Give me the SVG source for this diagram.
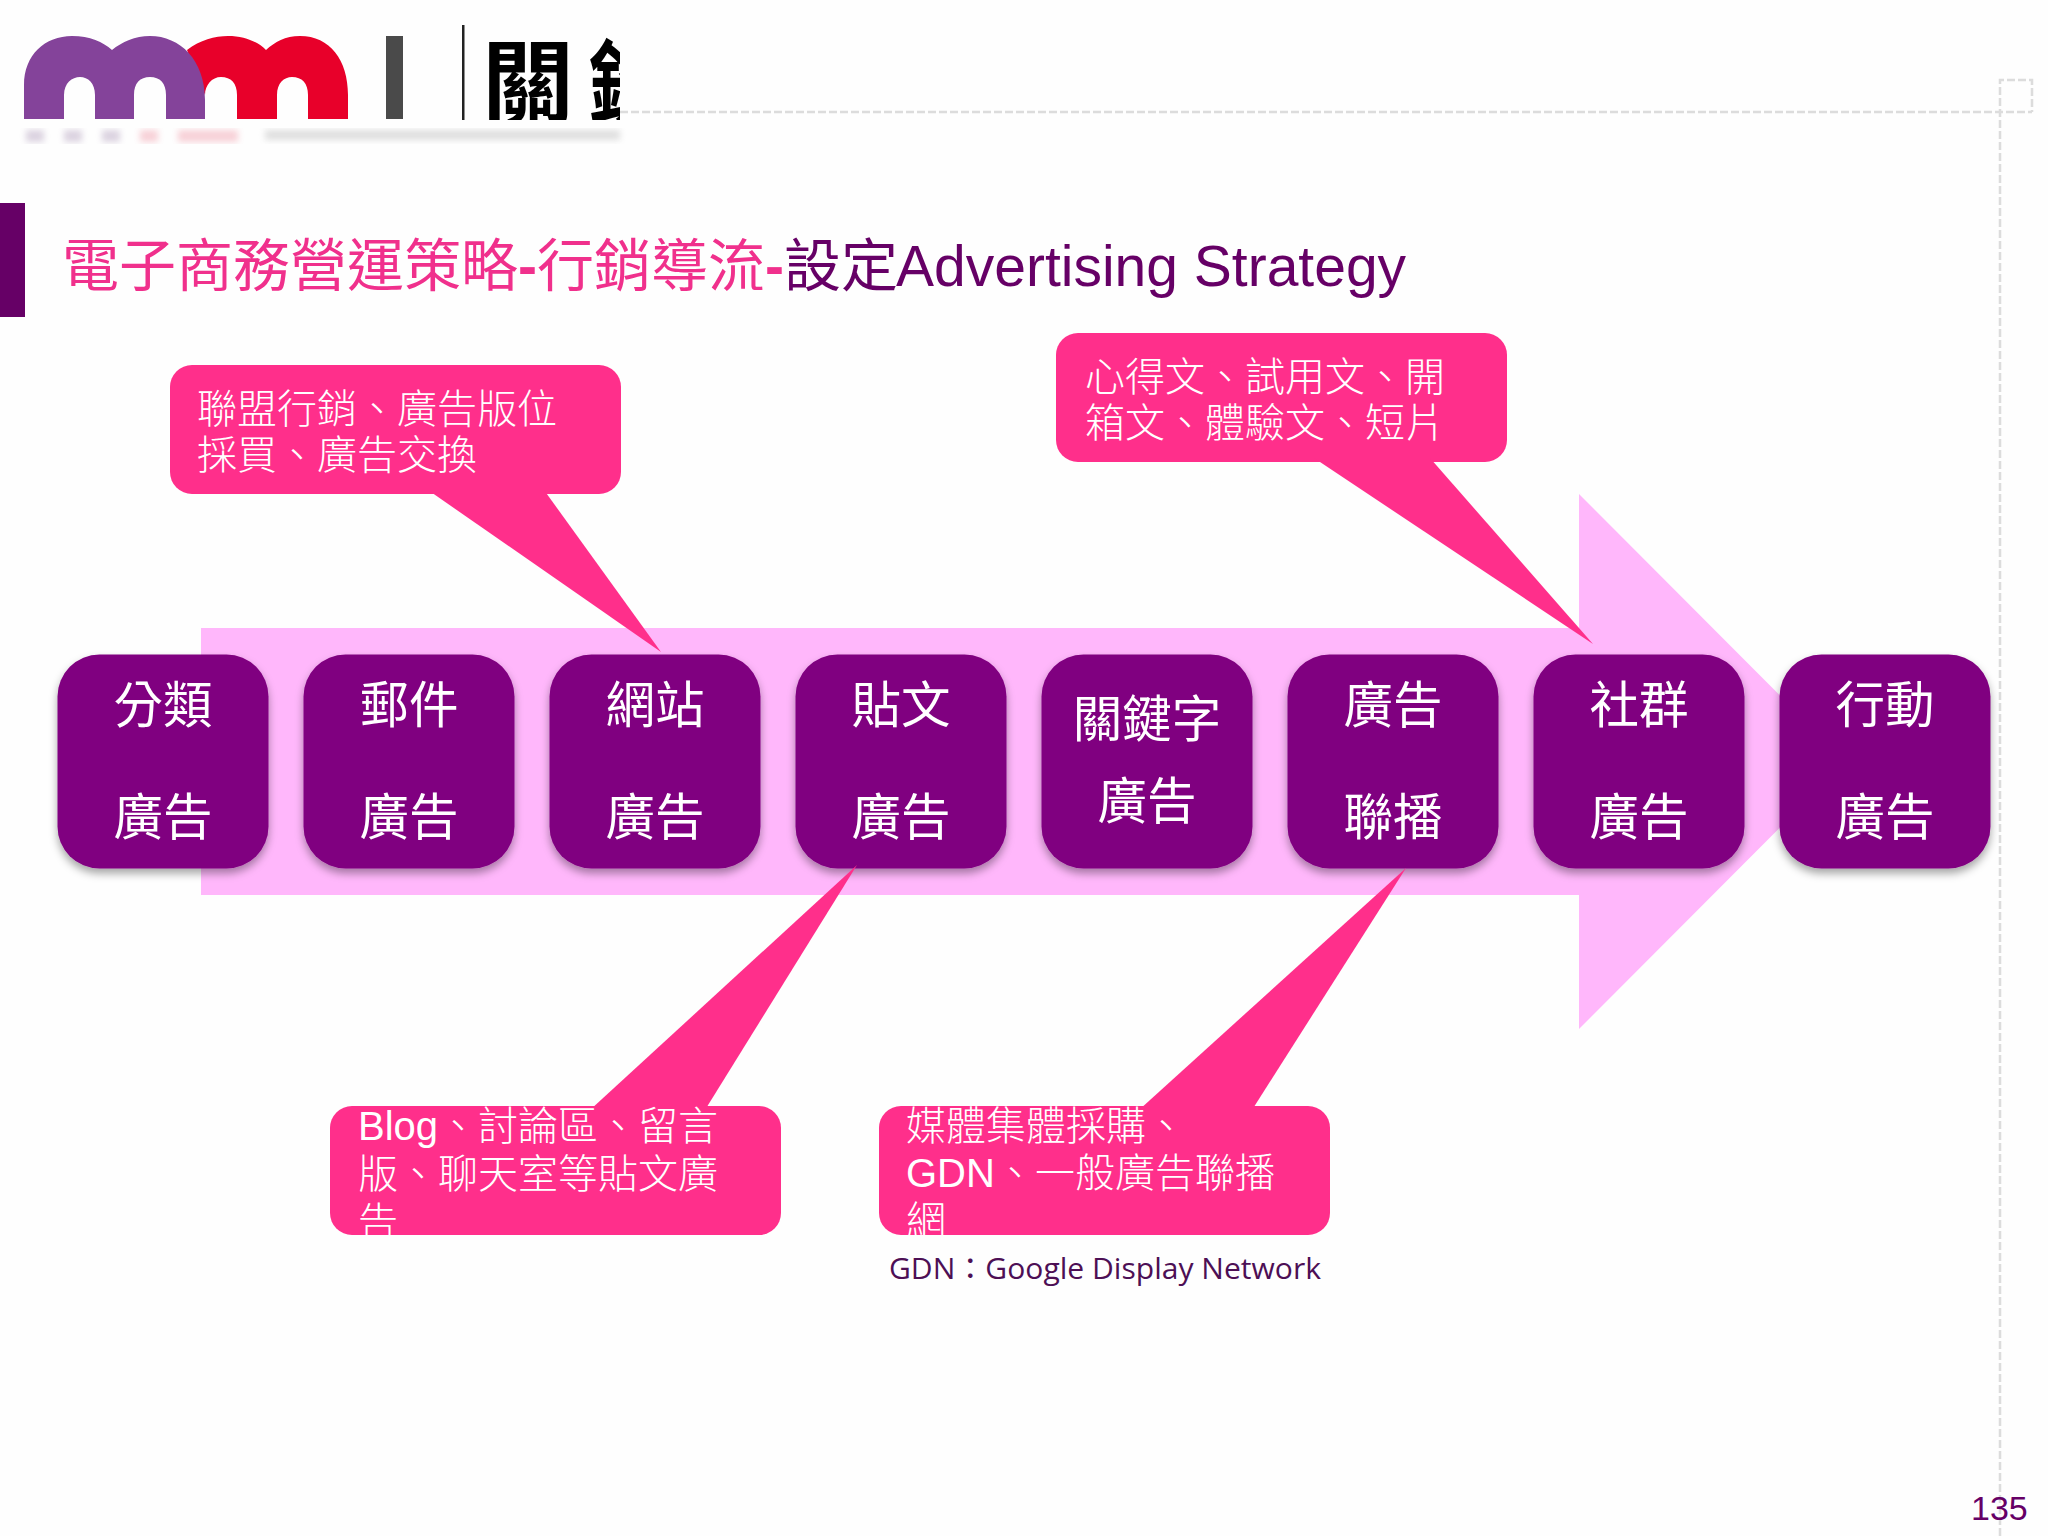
<svg xmlns="http://www.w3.org/2000/svg" width="2048" height="1536" viewBox="0 0 2048 1536">
<defs>
<style>
.cjk{font-family:"Noto Sans CJK TC","Liberation Sans",sans-serif}
.n{font-family:"Noto Sans CJK TC",sans-serif;font-size:49.5px;fill:#fff;text-anchor:middle}
.c{font-family:"Liberation Sans","Noto Sans CJK TC",sans-serif;font-size:40px;fill:#fff;font-weight:300}
.box{fill:#800080;filter:url(#sh)}
.call{fill:#ff2f8b}
.dash{fill:none;stroke:#dcdcdc;stroke-width:2.5;stroke-dasharray:8 3}
</style>
<filter id="sh" x="-10%" y="-10%" width="120%" height="120%"><feDropShadow dx="0" dy="5" stdDeviation="4" flood-color="#000" flood-opacity=".35"/></filter>
<filter id="bl"><feGaussianBlur stdDeviation="3"/></filter>
<clipPath id="logo"><rect x="0" y="0" width="620" height="120"/></clipPath>
<clipPath id="c3"><rect x="330" y="1106" width="451" height="129"/></clipPath>
<clipPath id="c4"><rect x="879" y="1106" width="451" height="129"/></clipPath>
</defs>
<rect width="2048" height="1536" fill="#fefefe"/>
<g id="frame">
<path class="dash" d="M620 112H2032M2000 1536V80H2032V112"/>
</g>
<g id="logo-mark">
<g clip-path="url(#logo)">
<path fill="#e8002a" d="M187 50C200 40 215 36 228 36C245 36 258 42 266 50C275 42 285 36 300 36C330 36 348 60 348 95V119H308V95C308 83 302 77 292 77C284 77 277 83 277 95V119H237V95C237 83 231 77 221 77C212 77 205 85 205 95Z"/>
<path fill="#84439a" d="M24 119V85C24 55 45 36 72 36C90 36 103 42 112 50C122 42 135 36 150 36C180 36 205 60 205 100V119H166V95C166 83 160 77 150 77C140 77 134 83 134 95V119H95V95C95 83 88 77 80 77C72 77 64 83 64 95V119Z"/>
<rect x="386" y="36" width="17" height="83" fill="#4a4a4a"/>
<rect x="462" y="25" width="2.5" height="95" fill="#222"/>
<text x="482" y="117" class="cjk" font-size="92" font-weight="700" letter-spacing="14" fill="#000">關鍵</text>
</g>
<g filter="url(#bl)" fill="#8c6f9c" opacity=".3">
<rect x="26" y="130" width="18" height="12"/><rect x="64" y="130" width="18" height="12"/><rect x="102" y="130" width="18" height="12"/>
<rect x="140" y="130" width="18" height="12" fill="#e86a80"/><rect x="178" y="130" width="60" height="12" fill="#e86a80"/>
<rect x="265" y="130" width="355" height="10" fill="#999"/>
</g>
</g>
<g id="title">
<rect x="0" y="203" width="25" height="114" fill="#660066"/>
<text x="62" y="286" class="cjk" font-size="57" fill="#f0308c">電子商務營運策略<tspan font-family="Liberation Sans" font-weight="700">-</tspan>行銷導流<tspan font-family="Liberation Sans" font-weight="700">-</tspan><tspan fill="#660066">設定</tspan></text>
<text x="896" y="286" font-family="Liberation Sans" font-size="57" fill="#660066">Advertising Strategy</text>
</g>
<g id="arrow"><path fill="#ffb7fb" d="M201 628H1579V494L1846 761.5L1579 1029V895H201Z"/></g>
<g id="nodes">
<g id="n1"><rect class="box" x="57.500" y="654.500" width="211" height="214" rx="42"/><text class="n" x="163" y="723">分類</text><text class="n" x="163" y="835">廣告</text></g>
<g id="n2"><rect class="box" x="303.500" y="654.500" width="211" height="214" rx="42"/><text class="n" x="409" y="723">郵件</text><text class="n" x="409" y="835">廣告</text></g>
<g id="n3"><rect class="box" x="549.500" y="654.500" width="211" height="214" rx="42"/><text class="n" x="655" y="723">網站</text><text class="n" x="655" y="835">廣告</text></g>
<g id="n4"><rect class="box" x="795.500" y="654.500" width="211" height="214" rx="42"/><text class="n" x="901" y="723">貼文</text><text class="n" x="901" y="835">廣告</text></g>
<g id="n5"><rect class="box" x="1041.500" y="654.500" width="211" height="214" rx="42"/><text class="n" x="1147" y="737">關鍵字</text><text class="n" x="1147" y="819">廣告</text></g>
<g id="n6"><rect class="box" x="1287.500" y="654.500" width="211" height="214" rx="42"/><text class="n" x="1393" y="723">廣告</text><text class="n" x="1393" y="835">聯播</text></g>
<g id="n7"><rect class="box" x="1533.500" y="654.500" width="211" height="214" rx="42"/><text class="n" x="1639" y="723">社群</text><text class="n" x="1639" y="835">廣告</text></g>
<g id="n8"><rect class="box" x="1779.500" y="654.500" width="211" height="214" rx="42"/><text class="n" x="1885" y="723">行動</text><text class="n" x="1885" y="835">廣告</text></g>
</g>
<g id="callout1"><rect class="call" x="170" y="365" width="451" height="129" rx="22"/><path class="call" d="M428 490L661 652L544 490Z"/>
<text class="c" x="197" y="423">聯盟行銷、廣告版位</text><text class="c" x="197" y="469">採買、廣告交換</text></g>
<g id="callout2"><rect class="call" x="1056" y="333" width="451" height="129" rx="22"/><path class="call" d="M1314 458L1593 644L1430 458Z"/>
<text class="c" x="1085" y="391">心得文、試用文、開</text><text class="c" x="1085" y="437">箱文、體驗文、短片</text></g>
<g id="callout3"><path class="call" d="M590 1110L857 865L705 1110Z"/><rect class="call" x="330" y="1106" width="451" height="129" rx="22"/>
<g clip-path="url(#c3)"><text class="c" x="358" y="1140">Blog、討論區、留言</text><text class="c" x="358" y="1188">版、聊天室等貼文廣</text><text class="c" x="358" y="1236">告</text></g></g>
<g id="callout4"><path class="call" d="M1139 1110L1406 868L1252 1110Z"/><rect class="call" x="879" y="1106" width="451" height="129" rx="22"/>
<g clip-path="url(#c4)"><text class="c" x="906" y="1140">媒體集體採購、</text><text class="c" x="906" y="1187">GDN、一般廣告聯播</text><text class="c" x="906" y="1235">網</text></g></g>
<text id="note" x="889" y="1279" font-family="Open Sans,Noto Sans CJK TC,sans-serif" font-size="30" fill="#4d0f55" textLength="432" lengthAdjust="spacingAndGlyphs">GDN：Google Display Network</text>
<text id="page" x="1971" y="1520" font-family="Liberation Sans" font-size="34" fill="#660066">135</text>
</svg>
